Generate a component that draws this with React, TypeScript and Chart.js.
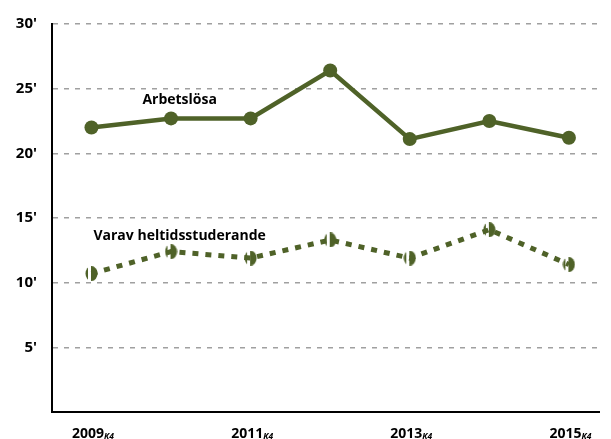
import React, { useEffect, useRef } from "react";
import { Chart, registerables } from "chart.js";

Chart.register(...registerables);

const categories = ["2009", "2010", "2011", "2012", "2013", "2014", "2015"];
const quarterSuffix = "K4";
const arbetslosa = [22.0, 22.7, 22.7, 26.4, 21.1, 22.5, 21.2];
const heltidsstuderande = [10.7, 12.4, 11.9, 13.3, 11.9, 14.1, 11.4];
const yTicks = [0, 5, 10, 15, 20, 25, 30];
const seriesNames = ["Arbetslösa", "Varav heltidsstuderande"];

const GREEN = "#4F6228";
const FONT = "'Open Sans', Lato, 'DejaVu Sans', sans-serif";

function makeMarker(): HTMLCanvasElement {
  const c = document.createElement("canvas");
  c.width = 13;
  c.height = 15;
  const g = c.getContext("2d")!;
  g.fillStyle = GREEN;
  g.beginPath();
  g.ellipse(6.5, 7.5, 6, 7.5, 0, 0, Math.PI * 2);
  g.fill();
  g.clearRect(3, 0, 2.5, 15);
  return c;
}

const labelsPlugin = {
  id: "customLabels",
  afterDraw(chart: any) {
    const { ctx } = chart;
    const x = chart.scales.x;
    const y = chart.scales.y;
    ctx.save();
    ctx.fillStyle = "#000";
    ctx.font = `bold 14px ${FONT}`;
    ctx.textAlign = "left";
    ctx.textBaseline = "middle";
    ctx.fillText(seriesNames[0], x.getPixelForValue(0.64), y.getPixelForValue(24.1));
    ctx.fillText(seriesNames[1], x.getPixelForValue(0.025), y.getPixelForValue(13.6));
    categories.forEach((c, i) => {
      if (i % 2 !== 0) return;
      const cx = x.getPixelForValue(i) + 1.5;
      ctx.font = `bold 14px ${FONT}`;
      const w1 = ctx.measureText(c).width;
      ctx.font = `italic bold 8.5px ${FONT}`;
      const w2 = ctx.measureText(quarterSuffix).width;
      const start = cx - (w1 + w2) / 2;
      const base = 438;
      ctx.textAlign = "left";
      ctx.textBaseline = "alphabetic";
      ctx.font = `bold 14px ${FONT}`;
      ctx.fillText(c, start, base);
      ctx.font = `italic bold 8.5px ${FONT}`;
      ctx.fillText(quarterSuffix, start + w1, base + 1);
    });
    ctx.restore();
  },
};

export default function App() {
  const ref = useRef<HTMLCanvasElement | null>(null);
  useEffect(() => {
    document.body.style.margin = "0";
    const canvas = ref.current!;
    const marker = makeMarker();
    const chart = new Chart(canvas, {
      type: "line",
      data: {
        datasets: [
          {
            label: seriesNames[0],
            data: arbetslosa.map((v, i) => ({ x: i, y: v })),
            borderColor: GREEN,
            backgroundColor: GREEN,
            borderWidth: 4.5,
            pointRadius: 7,
            pointBorderWidth: 0,
            pointBackgroundColor: GREEN,
          },
          {
            label: seriesNames[1],
            data: heltidsstuderande.map((v, i) => ({ x: i, y: v })),
            borderColor: GREEN,
            backgroundColor: GREEN,
            borderWidth: 5,
            borderDash: [6, 7],
            pointStyle: marker,
            pointRadius: 7,
          } as any,
        ],
      },
      options: {
        animation: false,
        responsive: false,
        maintainAspectRatio: false,
        layout: { padding: { top: 22, right: 0, left: 0, bottom: 0 } },
        plugins: { legend: { display: false }, tooltip: { enabled: false } },
        scales: {
          x: {
            type: "linear",
            min: -0.496,
            max: 6.378,
            grid: { display: false },
            border: { display: true, color: "#000", width: 2 },
            ticks: { display: false },
            afterFit: (s: any) => {
              s.height = 27;
            },
          },
          y: {
            min: 0,
            max: 30,
            afterBuildTicks: (s: any) => {
              s.ticks = yTicks.map((v) => ({ value: v }));
            },
            grid: {
              color: (c: any) => (c.tick && c.tick.value === 0 ? "rgba(0,0,0,0)" : "#A0A0A0"),
              lineWidth: 1.5,
              drawTicks: false,
            },
            border: { display: true, color: "#000", width: 2, dash: [5, 6] } as any,
            ticks: {
              padding: 15,
              color: "#000",
              font: { family: FONT, size: 15, weight: "bold" },
              callback: (v: any) => (v === 0 ? "" : `${v}'`),
            },
            afterFit: (s: any) => {
              s.width = 52;
            },
          },
        },
      },
      plugins: [labelsPlugin],
    });
    return () => chart.destroy();
  }, []);
  return <canvas ref={ref} width={611} height={439} style={{ display: "block" }} />;
}
